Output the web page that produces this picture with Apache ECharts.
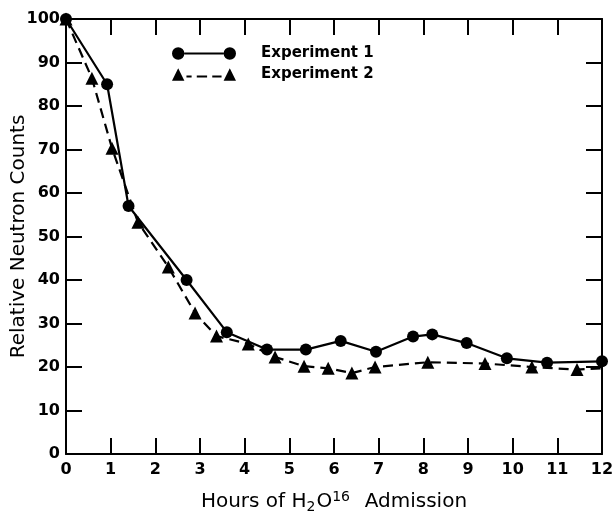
<!DOCTYPE html>
<html>
<head>
<meta charset="utf-8">
<script src="https://cdn.jsdelivr.net/npm/echarts@6/dist/echarts.min.js"></script>
<style>
  html, body { margin: 0; padding: 0; background: #fff; }
  #main { width: 612px; height: 513px; }
</style>
</head>
<body>
<div id="main"></div>
<script>
// values
var exp1Hours = [0, 0.92, 1.4, 2.7, 3.6, 4.5, 5.37, 6.15, 6.94, 7.77, 8.2, 8.97, 9.87, 10.77, 12];
var exp1Counts = [100, 85, 57, 40, 28, 24, 24, 26, 23.5, 27, 27.5, 25.5, 22, 21, 21.3];
var exp2Hours = [0, 0.58, 1.03, 1.61, 2.29, 2.89, 3.37, 4.08, 4.68, 5.33, 5.87, 6.4, 6.92, 8.1, 9.38, 10.43, 11.44, 12];
var exp2Counts = [100, 86.4, 70.3, 53.3, 43, 32.4, 27.1, 25.3, 22.3, 20.2, 19.7, 18.6, 20, 21.1, 20.8, 20, 19.4, 19.7];
var seriesNames = ['Experiment 1', 'Experiment 2'];

var font = 'DejaVu Sans';

function pairs(xs, ys) {
  return xs.map(function (x, i) { return [x, ys[i]]; });
}

var exp2Data = pairs(exp2Hours, exp2Counts).map(function (p, i) {
  // the dashed line runs on to the frame without a marker
  if (i === exp2Hours.length - 1) return { value: p, symbol: 'none' };
  return p;
});

var icon1 = 'path://M1,7 A6,6 0 1,0 13,7 A6,6 0 1,0 1,7 Z M13,6 L51,6 L51,8 L13,8 Z M51,7 A6,6 0 1,0 63,7 A6,6 0 1,0 51,7 Z';
var icon2 = 'path://M1,13 L7,1 L13,13 Z M15,8 L20,8 L20,10 L15,10 Z M25,8 L35,8 L35,10 L25,10 Z M40,8 L49,8 L49,10 L40,10 Z M51,13 L57,1 L63,13 Z';

var axisLine = { show: true, onZero: false, lineStyle: { color: '#000', width: 2 } };
var tick = { show: true, inside: true, length: 16, lineStyle: { color: '#000', width: 2 } };

var myChart = echarts.init(document.getElementById('main'));
myChart.setOption({
  animation: false,
  backgroundColor: '#fff',
  grid: { left: 66, right: 10, top: 19, bottom: 59, outerBoundsMode: 'none' },
  legend: {
    left: 167,
    top: 41,
    orient: 'vertical',
    itemWidth: 64,
    itemHeight: 13,
    itemGap: 6,
    data: [
      { name: seriesNames[0], icon: icon1 },
      { name: seriesNames[1], icon: icon2 }
    ],
    textStyle: { fontFamily: font, fontWeight: 'bold', fontSize: 15, color: '#000', padding: [0, 0, 0, 20] }
  },
  xAxis: [{
    type: 'value',
    min: 0, max: 12, interval: 1,
    name: '{n|Hours of H}{sub|2}{n|O}{sup|16}{n|  Admission}',
    nameLocation: 'middle',
    nameMoveOverlap: false,
    nameGap: 36,
    nameTextStyle: {
      rich: {
        n: { fontFamily: font, fontSize: 20, color: '#000' },
        sub: { fontFamily: font, fontSize: 14, color: '#000', verticalAlign: 'bottom', padding: [10, 1, 0, 0] },
        sup: { fontFamily: font, fontSize: 14, color: '#000', verticalAlign: 'top', padding: [0, 2, 10, 0] }
      }
    },
    axisLine: axisLine,
    axisTick: tick,
    splitLine: { show: false },
    axisLabel: { fontFamily: font, fontWeight: 'bold', fontSize: 16, color: '#000', margin: 8 }
  }, {
    type: 'value',
    position: 'top',
    min: 0, max: 12, interval: 1,
    axisLine: axisLine,
    axisTick: tick,
    splitLine: { show: false },
    axisLabel: { show: false }
  }],
  yAxis: [{
    type: 'value',
    min: 0, max: 100, interval: 10,
    name: 'Relative Neutron Counts',
    nameLocation: 'middle',
    nameMoveOverlap: false,
    nameGap: 37,
    nameRotate: 90,
    nameTextStyle: { fontFamily: font, fontSize: 20, color: '#000' },
    axisLine: axisLine,
    axisTick: tick,
    splitLine: { show: false },
    axisLabel: { fontFamily: font, fontWeight: 'bold', fontSize: 16, color: '#000', margin: 6 }
  }, {
    type: 'value',
    position: 'right',
    min: 0, max: 100, interval: 10,
    axisLine: axisLine,
    axisTick: tick,
    splitLine: { show: false },
    axisLabel: { show: false }
  }],
  series: [{
    name: seriesNames[0],
    type: 'line',
    data: pairs(exp1Hours, exp1Counts),
    symbol: 'circle',
    symbolSize: 12,
    itemStyle: { color: '#000' },
    lineStyle: { color: '#000', width: 2.2 }
  }, {
    name: seriesNames[1],
    type: 'line',
    data: exp2Data,
    symbol: 'triangle',
    symbolSize: 13,
    itemStyle: { color: '#000' },
    lineStyle: { color: '#000', width: 2.2, type: [10, 6] }
  }]
});
window.onresize = function () {
  myChart.resize();
};
</script>
</body>
</html>
